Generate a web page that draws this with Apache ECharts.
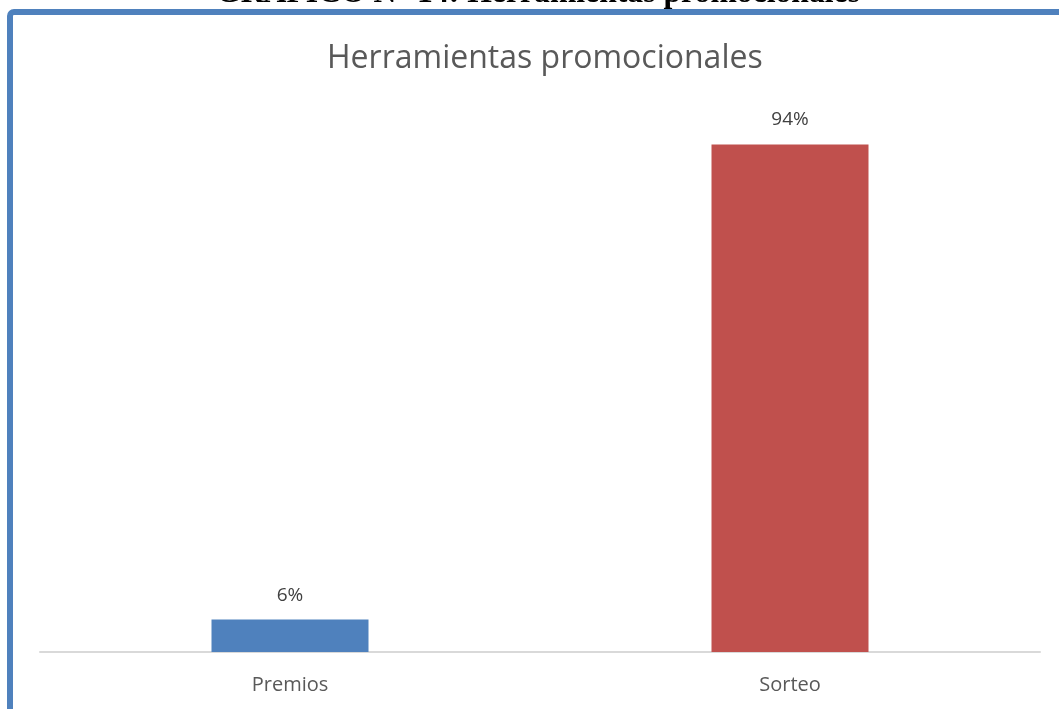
<!DOCTYPE html>
<html>
<head>
<meta charset="utf-8">
<script src="https://cdn.jsdelivr.net/npm/echarts@6/dist/echarts.min.js"></script>
<style>html,body{margin:0;padding:0;background:#fff}#c{width:1059px;height:709px}</style>
</head>
<body>
<div id="c"></div>
<script>
const categories = ['Premios', 'Sorteo'];
const values = [6, 94];
const barColors = ['#4F81BD', '#C0504D'];
const chartTitle = 'Herramientas promocionales';
const pageHeader = 'GRÁFICO N° 14: Herramientas promocionales';

const chart = echarts.init(document.getElementById('c'));
chart.setOption({
  animation: false,
  backgroundColor: '#fff',
  title: {
    text: chartTitle,
    left: 322,
    top: 38,
    textStyle: { fontFamily: 'Open Sans', fontSize: 32, fontWeight: 'normal', color: '#595959' }
  },
  graphic: [
    {
      type: 'rect',
      shape: { x: 10, y: 12, width: 1200, height: 900, r: 4 },
      style: { fill: 'none', stroke: '#4F81BD', lineWidth: 6 },
      z: 10
    },
    {
      type: 'text',
      style: {
        text: pageHeader, x: 538, y: 10, textAlign: 'center', textVerticalAlign: 'bottom',
        font: 'bold 31.7px "Liberation Serif"', fill: '#000'
      },
      z: 10
    }
  ],
  grid: { left: 40, right: 19, top: 112, bottom: 57, containLabel: false },
  xAxis: {
    type: 'category',
    data: categories,
    axisLine: { lineStyle: { color: '#D9D9D9', width: 2 } },
    axisTick: { show: false },
    axisLabel: { fontFamily: 'Open Sans', fontSize: 20, color: '#595959', margin: 23 }
  },
  yAxis: {
    type: 'value', min: 0, max: 100, show: false, splitLine: { show: false }
  },
  series: [{
    type: 'bar',
    data: values.map((v, i) => ({ value: v, itemStyle: { color: barColors[i] } })),
    barWidth: '31.4%',
    label: {
      show: true, position: 'top', distance: 15, formatter: '{c}%',
      fontFamily: 'Open Sans', fontSize: 19, color: '#404040'
    }
  }]
});
</script>
</body>
</html>
